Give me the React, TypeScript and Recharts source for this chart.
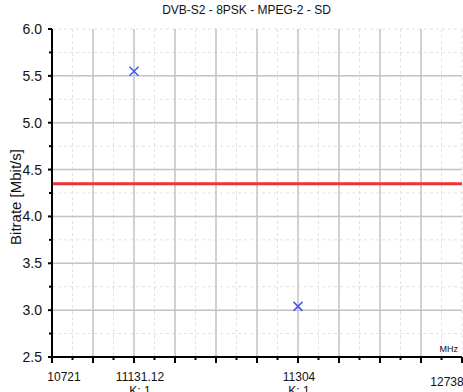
import {
  CartesianGrid,
  ReferenceLine,
  Scatter,
  ScatterChart,
  XAxis,
  YAxis,
} from "recharts";

const TITLE = "DVB-S2 - 8PSK - MPEG-2 - SD";
const Y_LABEL = "Bitrate [Mbit/s]";
const UNIT = "MHz";

// transponders: slot on the x scale, frequency, label, bitrate
const slots = [2, 6];
const freqs = ["11131.12", "11304"];
const kLabels = ["K: 1", "K: 1"];
const bitrates = [5.55, 3.04];

// band edges
const bandStart = "10721";
const bandEnd = "12738";
const xMin = 0;
const xMax = 10;

const meanBitrate = 4.35;

const xTicks = [0, 0.5, 1, 1.5, 2, 2.5, 3, 3.5, 4, 4.5, 5, 5.5, 6, 6.5, 7, 7.5, 8, 8.5, 9, 9.5, 10];
const yTicks = [2.5, 2.75, 3, 3.25, 3.5, 3.75, 4, 4.25, 4.5, 4.75, 5, 5.25, 5.5, 5.75, 6];
const xMajor = [1, 2, 3, 4, 5, 6, 7, 8, 9];
const yMajor = [3, 3.5, 4, 4.5, 5, 5.5];

const data = slots.map((s, i) => ({ x: s, y: bitrates[i] }));

const xLabels: Record<number, string[]> = { [xMin]: [bandStart], [xMax]: [bandEnd] };
slots.forEach((s, i) => {
  xLabels[s] = [freqs[i], kLabels[i]];
});

// small nudges so the edge labels stay inside the frame
const labelDx: Record<number, number> = { 0: 12, 2: 6, 6: 1, 10: -15 };
const labelDy: Record<number, number> = { 10: 5 };

const FONT = "'Liberation Sans', Arial, sans-serif";

const isMajor = (v: number, step: number) => Math.abs(v / step - Math.round(v / step)) < 1e-6;

function BottomTick(props: any) {
  const { x, y, payload } = props;
  const v = payload.value as number;
  const major = isMajor(v, 1);
  const lines = xLabels[v];
  return (
    <g>
      <line x1={x} y1={y} x2={x} y2={y + (major ? 6 : 3)} stroke="#000" strokeWidth={2} />
      {lines && (
        <text
          x={x + (labelDx[v] ?? 0)}
          y={y + 24 + (labelDy[v] ?? 0)}
          textAnchor="middle"
          fontSize={12}
          fill="#111"
          fontFamily={FONT}
        >
          {lines.map((l, i) => (
            <tspan key={i} x={x + (labelDx[v] ?? 0)} dy={i === 0 ? 0 : 14}>
              {l}
            </tspan>
          ))}
        </text>
      )}
    </g>
  );
}

function TopTick(props: any) {
  const { x, y, payload } = props;
  const major = isMajor(payload.value, 1);
  return <line x1={x} y1={y} x2={x} y2={y + (major ? 5 : 3)} stroke="#000" strokeWidth={2} />;
}

function LeftTick(props: any) {
  const { x, y, payload } = props;
  const v = payload.value as number;
  const major = isMajor(v, 0.5);
  return (
    <g>
      <line x1={x} y1={y} x2={x - (major ? 4 : 3)} y2={y} stroke="#000" strokeWidth={2} />
      {major && (
        <text x={x - 10} y={y + 5} textAnchor="end" fontSize={14} fill="#111" fontFamily={FONT}>
          {v.toFixed(1)}
        </text>
      )}
    </g>
  );
}

function RightTick(props: any) {
  const { x, y, payload } = props;
  const major = isMajor(payload.value, 0.5);
  return <line x1={x} y1={y} x2={x - (major ? 5 : 3)} y2={y} stroke="#000" strokeWidth={2} />;
}

function CrossMark(props: any) {
  const { cx, cy } = props;
  const r = 4.5;
  return (
    <g stroke="#3f55e8" strokeWidth={1.5}>
      <line x1={cx - r} y1={cy - r} x2={cx + r} y2={cy + r} />
      <line x1={cx - r} y1={cy + r} x2={cx + r} y2={cy - r} />
    </g>
  );
}

export default function App() {
  return (
    <div style={{ position: "absolute", left: 0, top: 0, width: 463, height: 392, background: "#fff", fontFamily: FONT }}>
      <ScatterChart width={463} height={392} margin={{ top: 29, right: 1, bottom: 0, left: 0 }}>
        <CartesianGrid stroke="#e2e2e2" strokeDasharray="3 3" />
        <XAxis
          type="number"
          dataKey="x"
          domain={[xMin, xMax]}
          ticks={xTicks}
          interval={0}
          height={35}
          tickSize={0}
          tickMargin={0}
          axisLine={{ stroke: "#000", strokeWidth: 2 }}
          tick={<BottomTick />}
        />
        <XAxis
          xAxisId="top"
          orientation="top"
          type="number"
          domain={[xMin, xMax]}
          ticks={xTicks}
          interval={0}
          height={0}
          tickSize={0}
          tickMargin={0}
          axisLine={{ stroke: "#000", strokeWidth: 2 }}
          tick={<TopTick />}
        />
        <YAxis
          type="number"
          dataKey="y"
          domain={[2.5, 6]}
          ticks={yTicks}
          interval={0}
          width={52}
          tickSize={0}
          tickMargin={0}
          axisLine={{ stroke: "#000", strokeWidth: 2 }}
          tick={<LeftTick />}
        />
        <YAxis
          yAxisId="right"
          orientation="right"
          type="number"
          domain={[2.5, 6]}
          ticks={yTicks}
          interval={0}
          width={0}
          tickSize={0}
          tickMargin={0}
          axisLine={{ stroke: "#000", strokeWidth: 1.5 }}
          tick={<RightTick />}
        />
        {xMajor.map((v) => (
          <ReferenceLine key={"vx" + v} x={v} stroke="#c4c4c4" strokeWidth={1.5} />
        ))}
        {yMajor.map((v) => (
          <ReferenceLine key={"hy" + v} y={v} stroke="#c4c4c4" strokeWidth={1.5} />
        ))}
        <ReferenceLine y={meanBitrate} stroke="#ee3333" strokeWidth={3} />
        <Scatter data={data} shape={<CrossMark />} isAnimationActive={false} />
      </ScatterChart>
      <div
        style={{
          position: "absolute",
          left: 0,
          top: 3,
          width: 463,
          textAlign: "center",
          fontSize: 12,
          color: "#111",
          paddingLeft: 30,
          boxSizing: "border-box",
        }}
      >
        {TITLE}
      </div>
      <div
        style={{
          position: "absolute",
          left: 15,
          top: 197,
          transform: "translate(-50%, -50%) rotate(-90deg)",
          fontSize: 15,
          color: "#111",
          whiteSpace: "nowrap",
        }}
      >
        {Y_LABEL}
      </div>
      <div style={{ position: "absolute", right: 5, top: 344, fontSize: 9, color: "#111" }}>{UNIT}</div>
    </div>
  );
}
